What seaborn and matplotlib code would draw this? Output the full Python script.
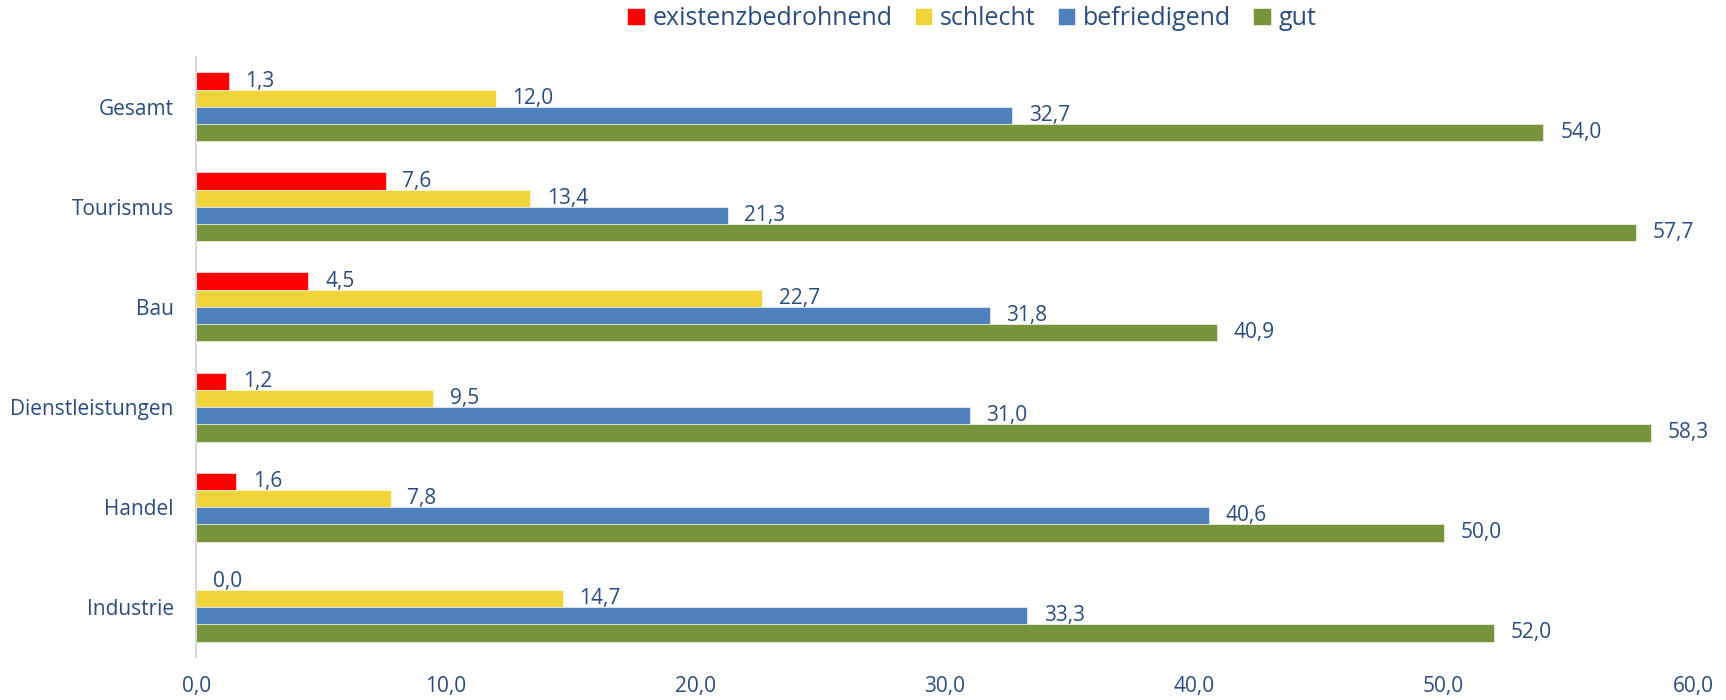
import numpy as np
import pandas as pd
import matplotlib.pyplot as plt
import seaborn as sns

# Daten aus der Grafik
branchen = ['Gesamt', 'Tourismus', 'Bau', 'Dienstleistungen', 'Handel', 'Industrie']
kategorien = ['existenzbedrohnend', 'schlecht', 'befriedigend', 'gut']
existenzbedrohnend = [1.3, 7.6, 4.5, 1.2, 1.6, 0.0]
schlecht = [12.0, 13.4, 22.7, 9.5, 7.8, 14.7]
befriedigend = [32.7, 21.3, 31.8, 31.0, 40.6, 33.3]
gut = [54.0, 57.7, 40.9, 58.3, 50.0, 52.0]
x_ticks = [0, 10, 20, 30, 40, 50, 60]

farben = ['#FF0000', '#F0D43A', '#4F81BD', '#77933C']
textfarbe = '#2A4C7F'

rows = []
for kat, werte in zip(kategorien, [existenzbedrohnend, schlecht, befriedigend, gut]):
    for b, w in zip(branchen, werte):
        rows.append({'Branche': b, 'Bewertung': kat, 'Wert': w})
df = pd.DataFrame(rows)

sns.set_theme(style='white')
plt.rcParams['font.family'] = ['Open Sans', 'DejaVu Sans']

fig = plt.figure(figsize=(17.26, 7), dpi=100)
ax = fig.add_axes([0.1136, 0.0614, 0.9810 - 0.1136, 0.9186 - 0.0614])

sns.barplot(data=df, x='Wert', y='Branche', hue='Bewertung', order=branchen,
            hue_order=kategorien, palette=farben, width=0.69, orient='h',
            edgecolor='white', linewidth=0.4, saturation=1, ax=ax)

for cont in ax.containers:
    labels = [f'{v:.1f}'.replace('.', ',') for v in cont.datavalues]
    ax.bar_label(cont, labels=labels, padding=12, fontsize=15, color=textfarbe)

ax.set_xlim(0, 60)
ax.set_xticks(x_ticks)
ax.set_xticklabels([f'{t:.1f}'.replace('.', ',') for t in x_ticks])
ax.set_xlabel('')
ax.set_ylabel('')
ax.tick_params(axis='x', length=0, pad=14, labelsize=15, labelcolor=textfarbe)
ax.tick_params(axis='y', length=0, pad=16, labelsize=15, labelcolor=textfarbe)
for s in ['top', 'right', 'bottom']:
    ax.spines[s].set_visible(False)
ax.spines['left'].set_color('#D9D9D9')
ax.spines['left'].set_linewidth(1.5)
ax.grid(False)

handles, lbls = ax.get_legend_handles_labels()
ax.get_legend().remove()
leg = fig.legend(handles, lbls, loc='center', bbox_to_anchor=(0.563, 0.973), ncol=4,
                 frameon=False, fontsize=18, handlelength=0.7, handleheight=0.7,
                 handletextpad=0.3, columnspacing=0.9)
for t in leg.get_texts():
    t.set_color(textfarbe)

fig.savefig('out.png', dpi=100)
